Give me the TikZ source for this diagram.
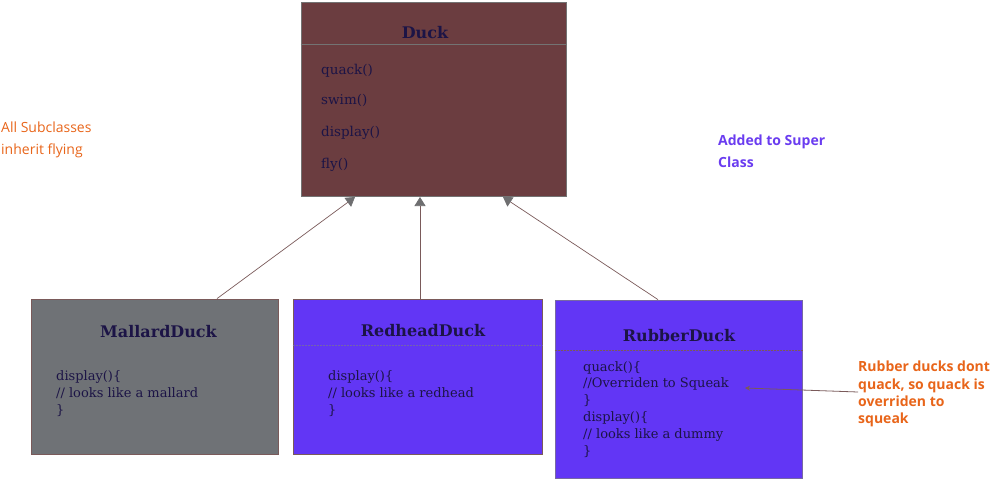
\documentclass[tikz,border=0pt]{standalone}
\usepackage{fontspec}
\usepackage{tikz}
\usetikzlibrary{arrows.meta}
\newfontfamily\boxfont{DejaVu Serif}
\newfontfamily\notefont{Open Sans}
\definecolor{duckfill}{HTML}{6B3D40}
\definecolor{mallfill}{HTML}{6F7276}
\definecolor{redfill}{HTML}{6236F5}
\definecolor{inkblue}{HTML}{1C1446}
\definecolor{noteorange}{HTML}{E8651A}
\definecolor{notepurple}{HTML}{6A3CF0}
\definecolor{wire}{HTML}{7A5A5A}
\definecolor{tipgray}{HTML}{6E6E70}
\tikzset{
  classbox/.style={draw=gray!90!black, line width=0.8pt, rectangle, inner sep=0pt},
  classname/.style={text=inkblue, font=\boxfont\bfseries\fontsize{16}{18}\selectfont},
  method/.style={text=inkblue, anchor=north west, align=left, inner sep=0pt,
    font=\boxfont\fontsize{13}{17}\selectfont},
  duckmethod/.style={text=inkblue, anchor=base west, inner sep=0pt,
    font=\boxfont\fontsize{13.5}{15}\selectfont},
  inherit/.style={draw=wire, line width=0.7pt, -{Triangle[length=9pt,width=11pt,color=tipgray,fill=tipgray]}},
  note/.style={anchor=north west, align=left, inner sep=0pt}
}
\begin{document}
\begin{tikzpicture}[x=1pt, y=-1pt]
    \useasboundingbox (0,0) rectangle (995,480);
    \node[classbox, fill=duckfill, minimum width=265pt, minimum height=194pt] (duck) at (433.5,99) {};
    \node[classname] (ducktitle) at (425,33) {Duck};
    \draw[gray!90!black, line width=0.6pt] (duck.west |- 0,44) -- (duck.east |- 0,44);
    \node[duckmethod] (mquack) at (321,74) {quack()};
    \node[duckmethod] (mswim) at (321,104) {swim()};
    \node[duckmethod] (mdisplay) at (321,136) {display()};
    \node[duckmethod] (mfly) at (321,168) {fly()};

    \node[classbox, draw=wire, fill=mallfill, minimum width=247pt, minimum height=155pt] (mallard) at (154.5,376.5) {};
    \node[classname] (mallardtitle) at (158.5,332) {MallardDuck};
    \node[method] (mallardbody) at (56,370) {display()\{\\// looks like a mallard\\\}};

    \node[classbox, draw=wire, fill=redfill, minimum width=249pt, minimum height=155pt] (redhead) at (417.5,376.5) {};
    \node[classname] (redheadtitle) at (423,331) {RedheadDuck};
    \draw[gray!60!redfill, line width=0.5pt, densely dotted] (redhead.west |- 0,345) -- (redhead.east |- 0,345);
    \node[method] (redheadbody) at (328,370) {display()\{\\// looks like a redhead\\\}};

    \node[classbox, draw=gray!70!redfill, fill=redfill, minimum width=247pt, minimum height=178pt] (rubber) at (678.5,389) {};
    \node[classname] (rubbertitle) at (679,336) {RubberDuck};
    \draw[wire, line width=0.5pt, densely dotted] (rubber.west |- 0,350) -- (rubber.east |- 0,350);
    \node[method, font=\boxfont\fontsize{13}{16.8}\selectfont] (rubberbody) at (583,361) {quack()\{\\//Overriden to Squeak\\\}\\display()\{\\// looks like a dummy\\\}};

    \draw[inherit] (mallard.north -| 217,0) -- (355,197);
    \draw[inherit] (redhead.north -| 420,0) -- (420,197);
    \draw[inherit] (rubber.north -| 658,0) -- (503,197);

    \node[note, text=noteorange, font=\notefont\fontsize{14}{22}\selectfont] (flynote) at (1,122) {All Subclasses\\inherit flying};
    \node[note, text=notepurple, font=\notefont\bfseries\fontsize{14}{22}\selectfont] (supernote) at (718,135) {Added to Super\\Class};
    \node[note, text=noteorange, font=\notefont\bfseries\fontsize{14}{17.3}\selectfont] (quacknote) at (858,361) {Rubber ducks dont\\quack, so quack is\\overriden to\\squeak};
    \coordinate (quackpt) at (745,388);
    \draw[wire, line width=0.8pt, -{Stealth[length=5pt,width=5pt]}] (quacknote.west |- 0,392) -- (quackpt);
\end{tikzpicture}
\end{document}
